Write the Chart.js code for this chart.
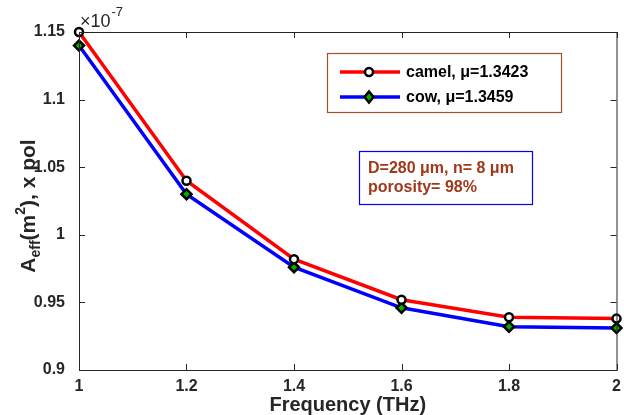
<!DOCTYPE html>
<html>
<head>
<meta charset="utf-8">
<script src="https://cdn.jsdelivr.net/npm/chart.js@4.4.1/dist/chart.umd.min.js"></script>
<style>
  html, body { margin: 0; padding: 0; background: #fff; }
  #wrap { width: 624px; height: 415px; }
</style>
</head>
<body>
<div id="wrap"><canvas id="chart" width="624" height="415"></canvas></div>
<script>
// frequencias (THz) e area efetiva (x 1e-7 m^2)
const frequencias = [1, 1.2, 1.4, 1.6, 1.8, 2];
const camel = [1.15, 1.04, 0.982, 0.952, 0.939, 0.938];
const cow = [1.14, 1.03, 0.976, 0.946, 0.932, 0.931];
const xTicks = [1, 1.2, 1.4, 1.6, 1.8, 2];
const yTicks = [0.9, 0.95, 1, 1.05, 1.1, 1.15];
const legendas = ['camel, \u03bc=1.3423', 'cow, \u03bc=1.3459'];
const infoTexto = ['D=280 \u03bcm, n= 8 \u03bcm', 'porosity= 98%'];

const FONTE = 'Arial, "Liberation Sans", Helvetica, sans-serif';
const EIXO = '#262626';

const pontos = (ys) => frequencias.map((x, i) => ({ x: x, y: ys[i] }));

// caixa dos eixos, ticks para dentro, legenda, anotacao e titulo do eixo y
const extras = {
  id: 'extras',
  afterDraw(chart) {
    const ctx = chart.ctx;
    const a = chart.chartArea;
    const sx = chart.scales.x, sy = chart.scales.y;
    ctx.save();
    ctx.strokeStyle = EIXO;
    ctx.lineWidth = 1;
    ctx.strokeRect(a.left + 0.5, a.top + 0.5, a.right - a.left, a.bottom - a.top);
    ctx.beginPath();
    xTicks.forEach(v => {
      const px = Math.round(sx.getPixelForValue(v)) + 0.5;
      ctx.moveTo(px, a.bottom); ctx.lineTo(px, a.bottom - 6);
      ctx.moveTo(px, a.top); ctx.lineTo(px, a.top + 6);
    });
    yTicks.forEach(v => {
      const py = Math.round(sy.getPixelForValue(v)) + 0.5;
      ctx.moveTo(a.left, py); ctx.lineTo(a.left + 6, py);
      ctx.moveTo(a.right, py); ctx.lineTo(a.right - 6, py);
    });
    ctx.stroke();

    // multiplicador x10^-7
    ctx.fillStyle = EIXO;
    ctx.textBaseline = 'alphabetic';
    ctx.font = '18px ' + FONTE;
    ctx.fillText('\u00d710', a.left + 1, a.top - 5);
    const w10 = ctx.measureText('\u00d710').width;
    ctx.font = '13px ' + FONTE;
    ctx.fillText('-7', a.left + 2 + w10, a.top - 16);

    // legenda
    const lx = 327, ly = 53, lw = 234, lh = 59;
    ctx.fillStyle = '#fff';
    ctx.fillRect(lx, ly, lw, lh);
    ctx.strokeStyle = '#a0522d';
    ctx.lineWidth = 1.2;
    ctx.strokeRect(lx + 0.5, ly + 0.5, lw, lh);
    chart.data.datasets.forEach((ds, i) => {
      const yy = ly + 19 + i * 25;
      ctx.strokeStyle = ds.borderColor;
      ctx.lineWidth = 3.5;
      ctx.beginPath();
      ctx.moveTo(340, yy); ctx.lineTo(400, yy);
      ctx.stroke();
      ctx.strokeStyle = '#000';
      ctx.lineWidth = 2.5;
      ctx.fillStyle = ds.pointBackgroundColor;
      ctx.beginPath();
      if (ds.pointStyle === 'circle') {
        ctx.arc(369, yy, 4, 0, Math.PI * 2);
      } else {
        ctx.moveTo(369, yy - 5.5); ctx.lineTo(373.5, yy); ctx.lineTo(369, yy + 5.5); ctx.lineTo(364.5, yy); ctx.closePath();
      }
      ctx.fill(); ctx.stroke();
      ctx.fillStyle = '#000';
      ctx.font = 'bold 16px ' + FONTE;
      ctx.textBaseline = 'middle';
      ctx.fillText(legendas[i], 406, yy + 1);
    });

    // caixa de parametros
    const bx = 359, by = 151, bw = 173, bh = 53;
    ctx.fillStyle = '#fff';
    ctx.fillRect(bx, by, bw, bh);
    ctx.strokeStyle = '#0000ff';
    ctx.lineWidth = 1.2;
    ctx.strokeRect(bx + 0.5, by + 0.5, bw, bh);
    ctx.fillStyle = '#a0391a';
    ctx.font = 'bold 16px ' + FONTE;
    ctx.textBaseline = 'middle';
    ctx.fillText(infoTexto[0], 368, 169);
    ctx.fillText(infoTexto[1], 368, 188);

    // titulo do eixo y com subscrito e sobrescrito
    ctx.translate(35, 206);
    ctx.rotate(-Math.PI / 2);
    ctx.fillStyle = EIXO;
    ctx.textBaseline = 'alphabetic';
    const partes = [
      { t: 'A', f: 'bold 21px ', dy: 0 },
      { t: 'eff', f: 'bold 14px ', dy: 5 },
      { t: '(m', f: 'bold 21px ', dy: 0 },
      { t: '2', f: 'bold 14px ', dy: -10 },
      { t: '), x pol', f: 'bold 21px ', dy: 0 }
    ];
    let total = 0;
    partes.forEach(p => { ctx.font = p.f + FONTE; total += ctx.measureText(p.t).width; });
    let px = -total / 2;
    partes.forEach(p => {
      ctx.font = p.f + FONTE;
      ctx.fillText(p.t, px, p.dy);
      px += ctx.measureText(p.t).width;
    });
    ctx.restore();
  }
};

new Chart(document.getElementById('chart'), {
  type: 'line',
  data: {
    datasets: [
      {
        label: legendas[0],
        data: pontos(camel),
        borderColor: '#ff0000',
        borderWidth: 3.5,
        pointStyle: 'circle',
        pointRadius: 4,
        pointBorderWidth: 2.5,
        pointBorderColor: '#000',
        pointBackgroundColor: '#fff',
        tension: 0,
        clip: false
      },
      {
        label: legendas[1],
        data: pontos(cow),
        borderColor: '#0000ff',
        borderWidth: 3.5,
        pointStyle: 'rectRot',
        pointRadius: 5,
        pointBorderWidth: 2.5,
        pointBorderColor: '#000',
        pointBackgroundColor: '#00b000',
        tension: 0,
        clip: false
      }
    ]
  },
  options: {
    responsive: false,
    animation: false,
    layout: { padding: { top: 32, right: 2, left: 0, bottom: 0 } },
    plugins: { legend: { display: false }, tooltip: { enabled: false } },
    scales: {
      x: {
        type: 'linear',
        min: 1, max: 2,
        afterBuildTicks: (s) => { s.ticks = xTicks.map(v => ({ value: v })); },
        afterFit: (s) => { s.height = 45; },
        grid: { display: false },
        border: { display: false },
        ticks: {
          color: EIXO, padding: -1, maxRotation: 0,
          font: { family: FONTE, size: 16, weight: 'bold' },
          callback: (v) => String(v)
        },
        title: {
          display: true, text: 'Frequency (THz)', color: EIXO,
          font: { family: FONTE, size: 20, weight: 'bold' },
          padding: { top: 0, bottom: -2 }
        }
      },
      y: {
        min: 0.9, max: 1.15,
        afterBuildTicks: (s) => { s.ticks = yTicks.map(v => ({ value: v })); },
        afterFit: (s) => { s.width = 79; },
        grid: { display: false },
        border: { display: false },
        ticks: {
          color: EIXO, padding: 6,
          font: { family: FONTE, size: 16, weight: 'bold' },
          callback: (v) => String(v)
        }
      }
    }
  },
  plugins: [extras]
});
</script>
</body>
</html>
